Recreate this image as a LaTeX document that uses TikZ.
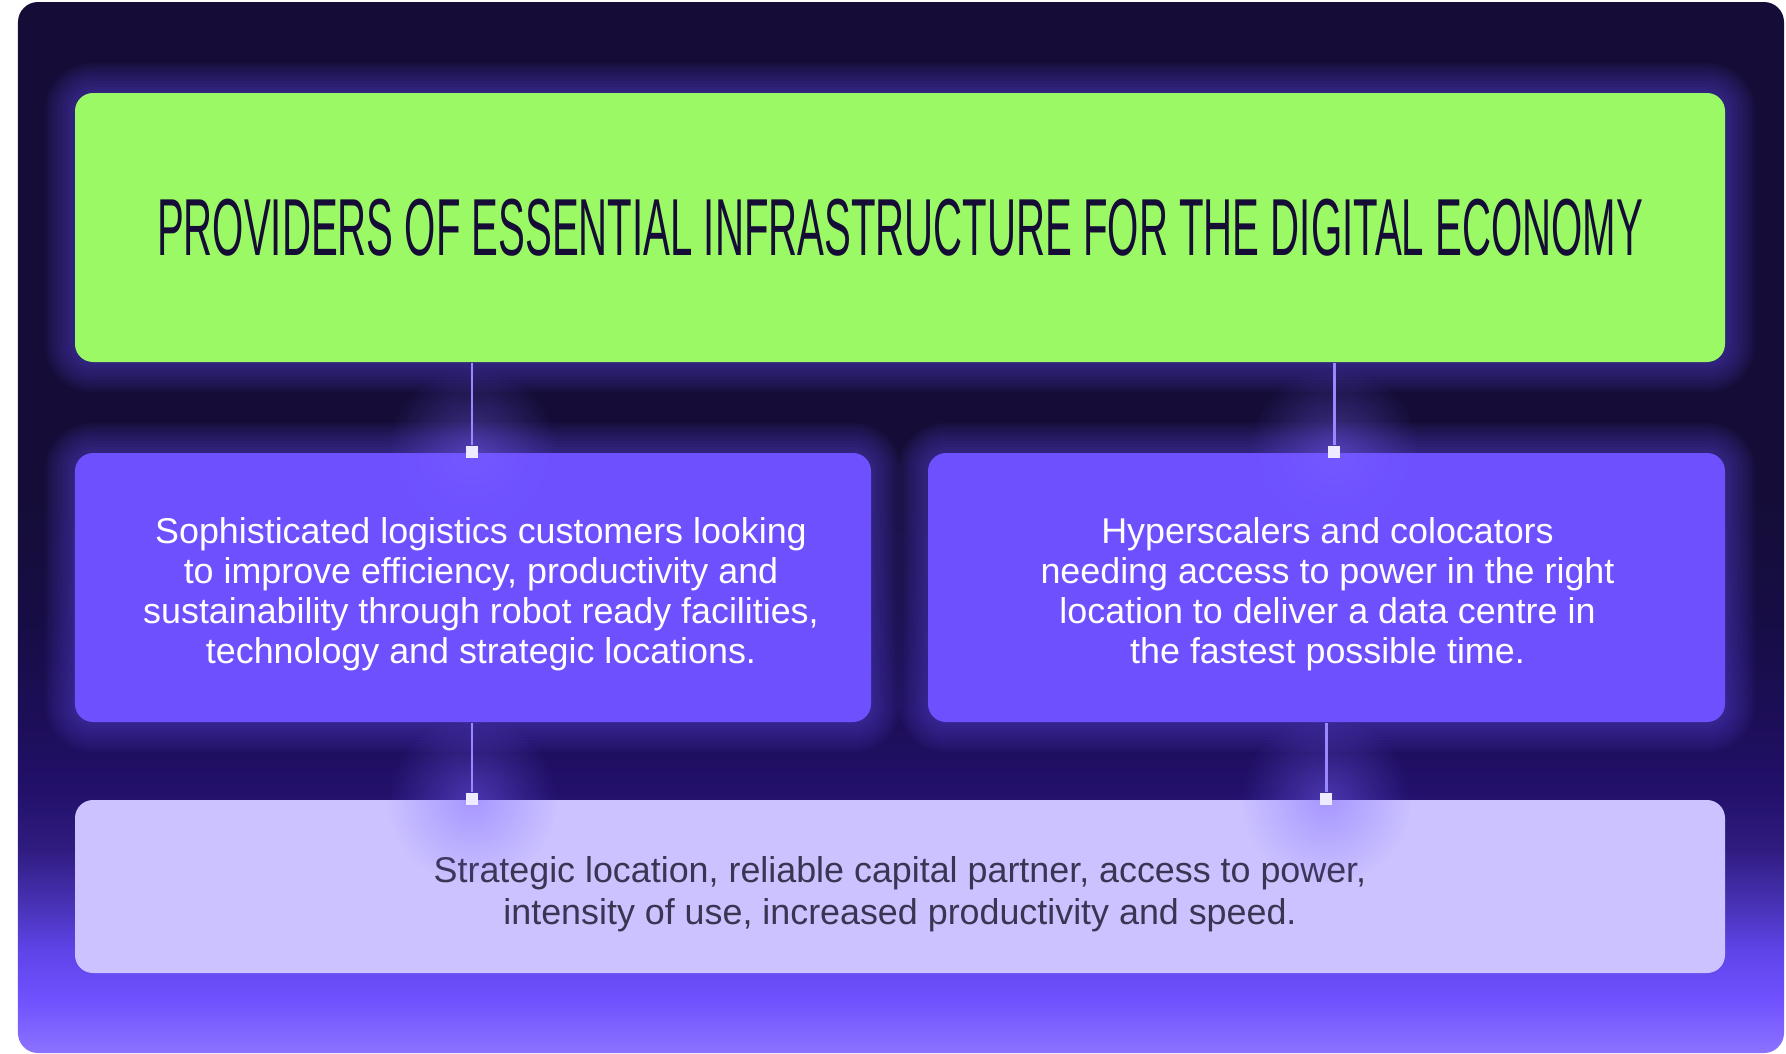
\documentclass[tikz,border=0pt]{standalone}
\usepackage{fontspec}
\setmainfont{Liberation Sans}
\newfontfamily\headfont[FakeStretch=0.497]{Liberation Sans}
\usetikzlibrary{calc,fadings}

\definecolor{pTop}{HTML}{150D38}
\definecolor{pA}{HTML}{170D45}
\definecolor{pB}{HTML}{1D0E58}
\definecolor{pC}{HTML}{22106A}
\definecolor{pD}{HTML}{301C80}
\definecolor{pE}{HTML}{4630B0}
\definecolor{pF}{HTML}{5F44E8}
\definecolor{pG}{HTML}{7152FF}
\definecolor{pBot}{HTML}{8C72FF}
\definecolor{limeBox}{HTML}{9AF964}
\definecolor{violetBox}{HTML}{6E50FF}
\definecolor{lilacBox}{HTML}{CBC2FF}
\definecolor{inkDark}{HTML}{150D35}
\definecolor{inkGrey}{HTML}{3B3452}
\definecolor{haloCol}{HTML}{5A44D6}
\definecolor{linkCol}{HTML}{9A88FF}
\definecolor{pinCol}{HTML}{EEEAFF}
\definecolor{blobCol}{HTML}{7A62FF}

\pgfdeclareverticalshading{panelshade}{100bp}{color(0bp)=(pBot); color(25bp)=(pBot);
  color(27.5bp)=(pG); color(29.9bp)=(pF); color(32.3bp)=(pE); color(34.7bp)=(pD);
  color(37.5bp)=(pC); color(40.8bp)=(pB); color(45.6bp)=(pA); color(51.3bp)=(pTop);
  color(75bp)=(pTop); color(100bp)=(pTop)}
\tikzfading[name=blobfade, inner color=transparent!55, outer color=transparent!100]

\tikzset{
  card/.style={rounded corners=0.18cm, inner sep=0pt},
  bodytext/.style={align=center, font=\fontsize{10.2}{11.4}\selectfont},
  pin/.style={fill=pinCol, minimum size=0.12cm, inner sep=0pt},
  link/.style={draw=linkCol, line width=0.85pt},
}

\begin{document}
\begin{tikzpicture}

\useasboundingbox (0,0) rectangle (17.86,-10.53);
\shade[shading=panelshade, rounded corners=0.2cm] (0.18,-0.02) rectangle (17.84,-10.53);	% background panel

% halos behind the cards
\foreach \g in {0.03,0.06,...,0.30}{
  \fill[haloCol, opacity=0.06, rounded corners={0.18cm+\g cm}] ($(0.75,-0.93)+(-\g,\g)$) rectangle ($(17.25,-3.62)+(\g,-\g)$);
  \fill[haloCol, opacity=0.06, rounded corners={0.18cm+\g cm}] ($(0.75,-4.53)+(-\g,\g)$) rectangle ($(8.71,-7.22)+(\g,-\g)$);
  \fill[haloCol, opacity=0.06, rounded corners={0.18cm+\g cm}] ($(9.28,-4.53)+(-\g,\g)$) rectangle ($(17.25,-7.22)+(\g,-\g)$);
}

\node[card, fill=limeBox, minimum width=16.5cm, minimum height=2.69cm, text=inkDark,
  font=\headfont\fontsize{23}{23}\selectfont] (top) at (9.0,-2.275)
  {PROVIDERS OF ESSENTIAL INFRASTRUCTURE FOR THE DIGITAL ECONOMY};

\node[card, fill=violetBox, minimum width=7.96cm, minimum height=2.69cm] (logi) at (4.73,-5.875) {};
\node[card, fill=violetBox, minimum width=7.97cm, minimum height=2.69cm] (hyper) at (13.265,-5.875) {};
\node[card, fill=lilacBox, minimum width=16.5cm, minimum height=1.73cm] (value) at (9.0,-8.865) {};

\node[bodytext, text=white] (logiText) at ($(logi.center)+(0.08,-0.07)$)
  {Sophisticated logistics customers looking\\to improve efficiency, productivity and\\sustainability through robot ready facilities,\\technology and strategic locations.};
\node[bodytext, text=white] (hyperText) at ($(hyper.center)+(0.01,-0.07)$)
  {Hyperscalers and colocators\\needing access to power in the right\\location to deliver a data centre in\\the fastest possible time.};
\node[bodytext, font=\fontsize{10.2}{11.95}\selectfont, text=inkGrey] (valueText) at ($(value.center)+(0,-0.08)$)
  {Strategic location, reliable capital partner, access to power,\\intensity of use, increased productivity and speed.};

% glow round the pins
\fill[blobCol, path fading=blobfade] (4.72,-4.52) circle (0.85);
\fill[blobCol, path fading=blobfade] (13.34,-4.52) circle (0.85);
\fill[blobCol, path fading=blobfade] (4.72,-7.99) circle (0.85);
\fill[blobCol, path fading=blobfade] (13.26,-7.99) circle (0.85);

\node[pin] (pinA) at (4.72,-4.52) {};
\node[pin] (pinB) at (13.34,-4.52) {};
\node[pin] (pinC) at (4.72,-7.99) {};
\node[pin] (pinD) at (13.26,-7.99) {};

\draw[link] (pinA |- top.south) -- (pinA.north);		% top to logistics
\draw[link] (pinB |- top.south) -- (pinB.north);		% top to hyperscalers
\draw[link] (pinC |- logi.south) -- (pinC.north);		% logistics to value
\draw[link] (pinD |- hyper.south) -- (pinD.north);	% hyperscalers to value

\end{tikzpicture}
\end{document}
